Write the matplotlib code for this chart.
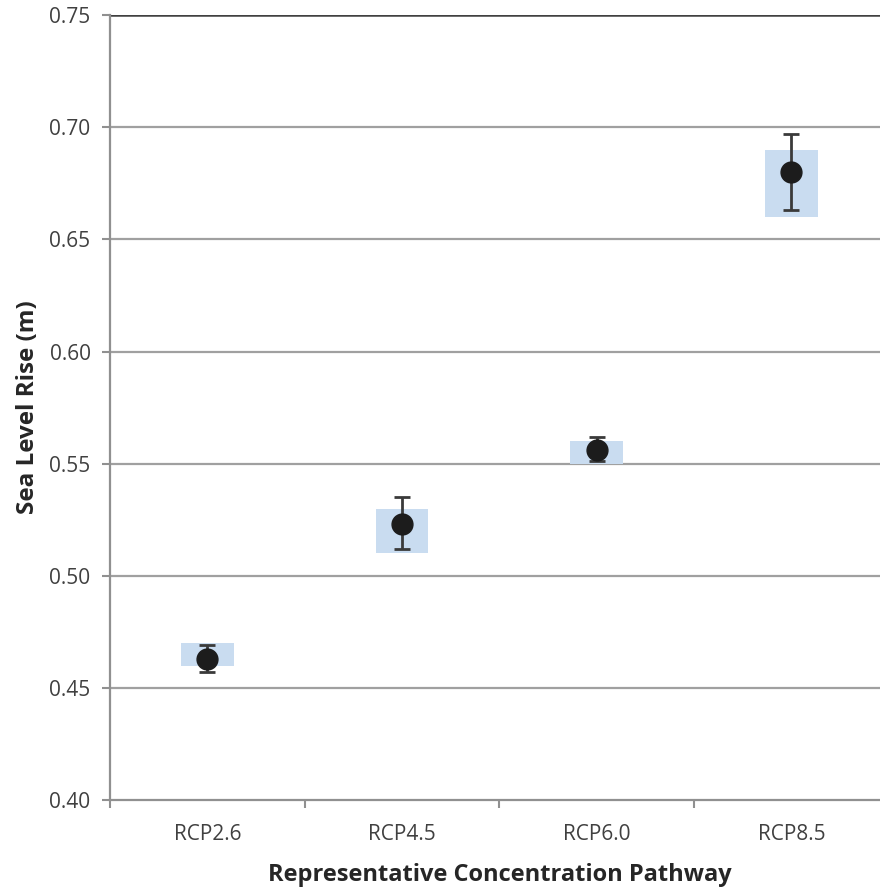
import matplotlib
matplotlib.use("Agg")
import matplotlib.pyplot as plt
import numpy as np

# pathways and values (m)
pathways = ["RCP2.6", "RCP4.5", "RCP6.0", "RCP8.5"]
mean_rise = [0.463, 0.523, 0.556, 0.680]
err_low = [0.457, 0.512, 0.551, 0.663]
err_high = [0.469, 0.535, 0.562, 0.697]
box_low = [0.460, 0.510, 0.550, 0.660]
box_high = [0.470, 0.530, 0.560, 0.690]
y_ticks = [0.40, 0.45, 0.50, 0.55, 0.60, 0.65, 0.70, 0.75]

plt.rcParams["font.family"] = ["Open Sans", "DejaVu Sans"]

fig = plt.figure(figsize=(8.8, 8.9), dpi=100)
ax = fig.add_axes([0.125, 0.101, 0.885, 0.882])

x = np.arange(len(pathways)) + 0.5

# grid lines
for t in y_ticks[1:-1]:
    ax.axhline(t, color="#a0a0a0", lw=1.6, zorder=0)
ax.axhline(0.75, color="#404040", lw=1.8, zorder=0)

# shaded ranges
ax.bar(x, np.array(box_high) - np.array(box_low), bottom=box_low,
       width=0.27, color="#c9dcf0", zorder=1)

# error bars and means
yerr = [np.array(mean_rise) - np.array(err_low),
        np.array(err_high) - np.array(mean_rise)]
ax.errorbar(x, mean_rise, yerr=yerr, fmt="o", color="#1c1c1c",
            ecolor="#3a3a3a", elinewidth=2, capsize=5.5, capthick=2,
            markersize=15, zorder=3)

ax.set_xlim(0, 4)
ax.set_ylim(0.40, 0.75)
ax.set_yticks(y_ticks)
ax.set_yticklabels([f"{t:.2f}" for t in y_ticks])
# labels at the centres, tick marks between categories
ax.set_xticks(x)
ax.set_xticklabels(pathways)
ax.set_xticks(np.arange(0, 5), minor=True)
ax.tick_params(axis="x", which="major", length=0, pad=17,
               labelsize=15, labelcolor="#404040")
ax.tick_params(axis="x", which="minor", length=6, color="#909090", width=1.5)
ax.tick_params(axis="y", length=6, color="#909090", width=1.5,
               labelsize=15, labelcolor="#404040", pad=8)

for side in ["top", "right"]:
    ax.spines[side].set_visible(False)
ax.spines["left"].set_color("#909090")
ax.spines["left"].set_linewidth(1.6)
ax.spines["bottom"].set_color("#909090")
ax.spines["bottom"].set_linewidth(1.6)

ax.set_ylabel("Sea Level Rise (m)", fontsize=17.5, fontweight="bold",
              color="#262626", labelpad=7)
ax.set_xlabel("Representative Concentration Pathway", fontsize=17,
              fontweight="bold", color="#262626", labelpad=13)

fig.savefig("out.png", dpi=100)
